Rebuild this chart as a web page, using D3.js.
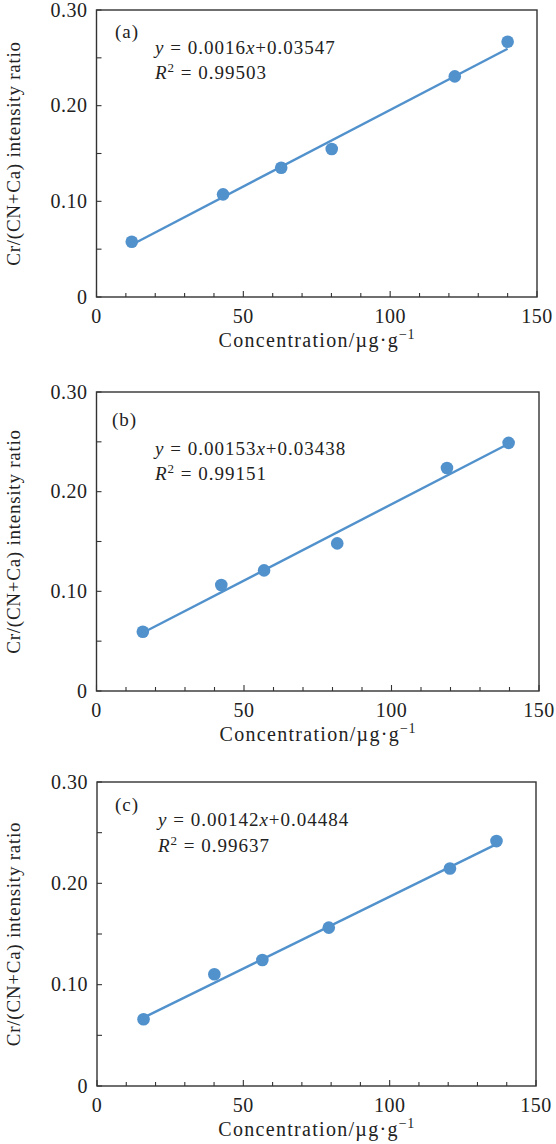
<!DOCTYPE html>
<html lang="en">
<head>
  <meta charset="UTF-8">
  <title>Cr calibration curves</title>
  <style>
    body { margin: 0; background: #fff; }
    svg text { font-family: 'Liberation Serif', 'DejaVu Serif', serif; fill: #222; }
  </style>
</head>
<body>
<svg id="chart" width="556" height="1144"></svg>

<script src="https://d3js.org/d3.v7.min.js"></script>
<script>
// ---------------------------------------------
// data
// ---------------------------------------------
const panelLabels = ["(a)", "(b)", "(c)"];

const concA  = [12.0, 43.1, 62.9, 80.1, 122.0, 140.0];
const ratioA = [0.0578, 0.1073, 0.1351, 0.1547, 0.2306, 0.2668];

const concB  = [15.7, 42.3, 56.8, 81.6, 118.8, 139.7];
const ratioB = [0.0595, 0.1063, 0.1210, 0.1481, 0.2237, 0.2490];

const concC  = [15.9, 40.1, 56.5, 79.2, 120.6, 136.5];
const ratioC = [0.0658, 0.1103, 0.1244, 0.1563, 0.2147, 0.2417];

const slopes     = [0.0016, 0.00153, 0.00142];
const intercepts = [0.03547, 0.03438, 0.04484];
const slopeText     = ["0.0016", "0.00153", "0.00142"];
const interceptText = ["0.03547", "0.03438", "0.04484"];
const r2Text        = ["0.99503", "0.99151", "0.99637"];

const xTicks = [0, 50, 100, 150];
const yTicks = [0, 0.10, 0.20, 0.30];
const yTickLabels = ["0", "0.10", "0.20", "0.30"];

const xTitle = "Concentration/\u00b5g\u00b7g";
const yTitle = "Cr/(CN+Ca) intensity ratio";

// ---------------------------------------------
// layout
// ---------------------------------------------
const panels = [
  { conc: concA, ratio: ratioA, top: 10,  bottom: 297,  left: 96.5, right: 537, lab: [115, 38],  eq: [155, 54],  r2: [155, 79] },
  { conc: concB, ratio: ratioB, top: 392, bottom: 691,  left: 96.5, right: 539, lab: [112, 426], eq: [155, 455], r2: [155, 480] },
  { conc: concC, ratio: ratioC, top: 782, bottom: 1086, left: 97,   right: 536, lab: [115, 811], eq: [158, 826], r2: [158, 852] }
];

const blue = "#5191cc";
const axisCol = "#333";
const svg = d3.select("#chart");

panels.forEach((p, i) => {
  const x = d3.scaleLinear().domain([0, 150]).range([p.left, p.right]);
  const y = d3.scaleLinear().domain([0, 0.30]).range([p.bottom, p.top]);
  const g = svg.append("g");

  // minor/major ticks pointing inward
  const xt = d3.range(0, 151, 10);
  g.selectAll(".xt").data(xt).join("line")
    .attr("x1", d => x(d)).attr("x2", d => x(d))
    .attr("y1", p.bottom).attr("y2", d => p.bottom - (d % 50 === 0 ? 6 : 4))
    .attr("stroke", axisCol).attr("stroke-width", 1.1);
  const yt = d3.range(0, 0.301, 0.05);
  g.selectAll(".yt").data(yt).join("line")
    .attr("x1", p.left).attr("x2", p.left + 5)
    .attr("y1", d => y(d)).attr("y2", d => y(d))
    .attr("stroke", axisCol).attr("stroke-width", 1.1);

  // frame
  g.append("rect")
    .attr("x", p.left).attr("y", p.top)
    .attr("width", p.right - p.left).attr("height", p.bottom - p.top)
    .attr("fill", "none").attr("stroke", axisCol).attr("stroke-width", 1.4);

  // tick labels
  g.selectAll(".xl").data(xTicks).join("text")
    .attr("x", d => x(d)).attr("y", p.bottom + 26)
    .attr("text-anchor", "middle").attr("font-size", 20).attr("letter-spacing", 0.5)
    .text(d => d);
  g.selectAll(".yl").data(yTicks).join("text")
    .attr("x", p.left - 9).attr("y", d => Math.max(y(d) + 6.5, 17))
    .attr("text-anchor", "end").attr("font-size", 20).attr("letter-spacing", 0.5)
    .text((d, k) => yTickLabels[k]);

  // axis titles
  const xt2 = g.append("text")
    .attr("x", (p.left + p.right) / 2).attr("y", p.bottom + 50)
    .attr("text-anchor", "middle").attr("font-size", 20).attr("letter-spacing", 1.3);
  xt2.append("tspan").text(xTitle);
  xt2.append("tspan").attr("dy", -8).attr("font-size", 14).attr("letter-spacing", 0.5).text("\u22121");

  g.append("text")
    .attr("transform", `translate(20,${(p.top + p.bottom) / 2}) rotate(-90)`)
    .attr("text-anchor", "middle").attr("font-size", 19).attr("letter-spacing", 0.75)
    .text(yTitle);

  // fit line
  const x0 = d3.min(p.conc), x1 = d3.max(p.conc);
  const line = d3.line().x(d => x(d)).y(d => y(slopes[i] * d + intercepts[i]));
  g.append("path").datum([x0, x1])
    .attr("d", line).attr("fill", "none")
    .attr("stroke", blue).attr("stroke-width", 2.4);

  // points
  g.selectAll("circle").data(p.conc).join("circle")
    .attr("cx", d => x(d)).attr("cy", (d, k) => y(p.ratio[k]))
    .attr("r", 6.3).attr("fill", blue);

  // panel label
  g.append("text").attr("x", p.lab[0]).attr("y", p.lab[1])
    .attr("font-size", 19).attr("letter-spacing", 1).text(panelLabels[i]);

  // equation
  const eq = g.append("text").attr("x", p.eq[0]).attr("y", p.eq[1])
    .attr("font-size", 19).attr("letter-spacing", 1);
  eq.append("tspan").attr("font-style", "italic").text("y");
  eq.append("tspan").text(" = " + slopeText[i]);
  eq.append("tspan").attr("font-style", "italic").text("x");
  eq.append("tspan").text("+" + interceptText[i]);

  const r2 = g.append("text").attr("x", p.r2[0]).attr("y", p.r2[1])
    .attr("font-size", 19).attr("letter-spacing", 1);
  r2.append("tspan").attr("font-style", "italic").text("R");
  r2.append("tspan").attr("dy", -7).attr("font-size", 13).text("2");
  r2.append("tspan").attr("dy", 7).text(" = " + r2Text[i]);
});
</script>
</body>
</html>
